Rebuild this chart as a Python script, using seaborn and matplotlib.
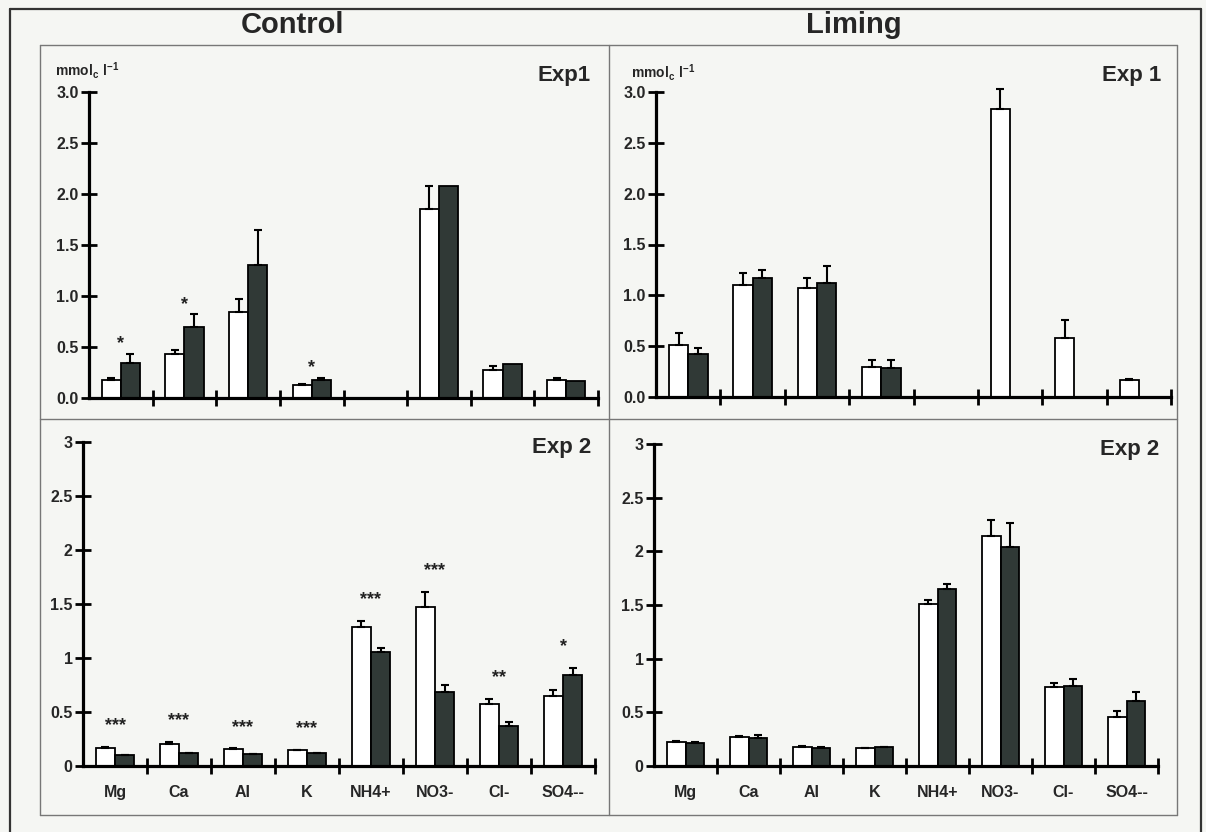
import numpy as np
import pandas as pd
import matplotlib
matplotlib.use('Agg')
import matplotlib.pyplot as plt
from matplotlib.lines import Line2D
import seaborn as sns

nan = np.nan

ions = ['Mg', 'Ca', 'Al', 'K', 'NH4+', 'NO3-', 'Cl-', 'SO4--']

# Exp 1 - control
exp1_ctrl_open = [0.18, 0.43, 0.84, 0.13, nan, 1.85, 0.27, 0.18]
exp1_ctrl_open_err = [0.02, 0.04, 0.13, 0.01, nan, 0.23, 0.04, 0.02]
exp1_ctrl_filled = [0.34, 0.70, 1.30, 0.18, nan, 2.08, 0.33, 0.17]
exp1_ctrl_filled_err = [0.09, 0.12, 0.35, 0.02, nan, 0.0, 0.0, 0.0]
exp1_ctrl_stars = ['*', '*', '', '*', '', '', '', '']

# Exp 1 - liming
exp1_lim_open = [0.51, 1.10, 1.07, 0.30, nan, 2.83, 0.58, 0.17]
exp1_lim_open_err = [0.12, 0.12, 0.10, 0.06, nan, 0.20, 0.18, 0.01]
exp1_lim_filled = [0.425, 1.17, 1.12, 0.29, nan, nan, nan, nan]
exp1_lim_filled_err = [0.06, 0.08, 0.17, 0.07, nan, nan, nan, nan]

# Exp 2 - control
exp2_ctrl_open = [0.163, 0.206, 0.154, 0.145, 1.29, 1.47, 0.57, 0.646]
exp2_ctrl_open_err = [0.012, 0.015, 0.010, 0.005, 0.055, 0.14, 0.05, 0.055]
exp2_ctrl_filled = [0.100, 0.117, 0.108, 0.117, 1.055, 0.683, 0.375, 0.846]
exp2_ctrl_filled_err = [0.005, 0.005, 0.005, 0.005, 0.04, 0.067, 0.03, 0.062]
exp2_ctrl_stars = ['***', '***', '***', '***', '***', '***', '**', '*']

# Exp 2 - liming
exp2_lim_open = [0.22, 0.266, 0.18, 0.164, 1.51, 2.147, 0.74, 0.46]
exp2_lim_open_err = [0.012, 0.012, 0.006, 0.005, 0.04, 0.143, 0.035, 0.05]
exp2_lim_filled = [0.21, 0.263, 0.17, 0.173, 1.647, 2.04, 0.748, 0.61]
exp2_lim_filled_err = [0.015, 0.024, 0.006, 0.007, 0.053, 0.22, 0.062, 0.076]

DARK = '#2e3a37'
BG = '#f5f6f3'
W, H = 1206, 832

sns.set_style('white')
plt.rcParams['font.family'] = ['Liberation Sans', 'DejaVu Sans']
plt.rcParams['font.weight'] = 'bold'
plt.rcParams['mathtext.fontset'] = 'custom'
plt.rcParams['mathtext.rm'] = 'Liberation Sans'
plt.rcParams['mathtext.bf'] = 'Liberation Sans:bold'


def px_rect(left, right, top, bottom):
    return [left / W, 1 - bottom / H, (right - left) / W, (bottom - top) / H]


def draw_panel(ax, vals_open, err_open, vals_filled, err_filled, stars=None,
               ytick_fmt='{:.1f}', xlabels=False, star_pad=4):
    df = pd.DataFrame({
        'ion': ions * 2,
        'value': vals_open + vals_filled,
        'err': err_open + err_filled,
        'group': ['open'] * len(ions) + ['filled'] * len(ions),
    })
    sns.barplot(data=df, x='ion', y='value', hue='group', order=ions,
                hue_order=['open', 'filled'],
                palette={'open': 'white', 'filled': DARK},
                edgecolor='black', linewidth=1.3, width=0.6, gap=0,
                errorbar=None, legend=False, ax=ax)

    # upward-only error bars on top of each drawn bar
    tops = np.zeros(len(ions))
    for level, cont in zip(['open', 'filled'], ax.containers):
        sub = df[df.group == level].set_index('ion')
        for bar in cont:
            h = bar.get_height()
            if not np.isfinite(h):
                continue
            xc = bar.get_x() + bar.get_width() / 2
            i = int(round(xc))
            e = sub.loc[ions[i], 'err']
            if np.isfinite(e) and e > 0:
                ax.errorbar(xc, h, yerr=[[0], [e]], fmt='none', ecolor='black',
                            elinewidth=1.5, capsize=3, capthick=1.5,
                            clip_on=False, zorder=1)
            tops[i] = max(tops[i], h + (e if np.isfinite(e) else 0))

    if stars is not None:
        for i, s in enumerate(stars):
            if s:
                ax.annotate(s, xy=(i, tops[i]), xytext=(0, star_pad),
                            textcoords='offset points', ha='center',
                            va='baseline', fontsize=13, fontweight='bold',
                            color='#222222')

    ax.set_xlim(-0.5, 7.5)
    ax.set_ylim(0, 3)
    ax.set_facecolor('none')
    ax.set_xlabel('')
    ax.set_ylabel('')
    sns.despine(ax=ax)
    for side in ['left', 'bottom']:
        ax.spines[side].set_linewidth(2.3)
        ax.spines[side].set_color('black')

    yt = np.arange(0, 3.01, 0.5)
    ax.set_yticks(yt)
    ax.set_yticklabels([ytick_fmt(v) for v in yt], fontsize=11.5,
                       fontweight='bold')
    ax.set_xticks(np.arange(0.5, 8, 1))
    ax.set_xticklabels([])
    ax.tick_params(axis='both', which='major', direction='inout', length=11,
                   width=2, color='black', pad=2, bottom=True, left=True)
    if xlabels:
        ax.set_xticks(np.arange(len(ions)), minor=True)
        ax.set_xticklabels(ions, minor=True, fontsize=11.5, fontweight='bold')
        ax.tick_params(axis='x', which='minor', length=0, pad=14, bottom=True)
    else:
        ax.set_xticks([], minor=True)


fig = plt.figure(figsize=(W / 100, H / 100), dpi=100)
fig.patch.set_facecolor(BG)

ax_tl = fig.add_axes(px_rect(89, 598, 92, 398))
ax_tr = fig.add_axes(px_rect(656, 1171, 92, 397))
ax_bl = fig.add_axes(px_rect(83, 595, 442, 766))
ax_br = fig.add_axes(px_rect(654, 1158, 444, 766))

fmt1 = lambda v: '{:.1f}'.format(v)
fmt2 = lambda v: '{:g}'.format(v)

draw_panel(ax_tl, exp1_ctrl_open, exp1_ctrl_open_err, exp1_ctrl_filled,
           exp1_ctrl_filled_err, stars=exp1_ctrl_stars, ytick_fmt=fmt1,
           star_pad=4)
draw_panel(ax_tr, exp1_lim_open, exp1_lim_open_err, exp1_lim_filled,
           exp1_lim_filled_err, ytick_fmt=fmt1)
draw_panel(ax_bl, exp2_ctrl_open, exp2_ctrl_open_err, exp2_ctrl_filled,
           exp2_ctrl_filled_err, stars=exp2_ctrl_stars, ytick_fmt=fmt2,
           xlabels=True, star_pad=12)
draw_panel(ax_br, exp2_lim_open, exp2_lim_open_err, exp2_lim_filled,
           exp2_lim_filled_err, ytick_fmt=fmt2, xlabels=True)


def fig_line(x0, y0, x1, y1, color, lw):
    fig.add_artist(Line2D([x0 / W, x1 / W], [1 - y0 / H, 1 - y1 / H],
                          transform=fig.transFigure, color=color, lw=lw))


# outer frame
fig_line(10, 9, 1201, 9, '#333333', 1.6)
fig_line(10, 9, 10, 832, '#333333', 1.6)
fig_line(1201, 9, 1201, 832, '#333333', 1.6)
# panel grid
for x in [40, 609, 1177]:
    fig_line(x, 45, x, 815, '#777777', 1.0)
for y in [45, 419, 815]:
    fig_line(40, y, 1177, y, '#777777', 1.0)

fig.text(292 / W, 1 - 25 / H, 'Control', ha='center', va='center',
         fontsize=21, fontweight='bold')
fig.text(854 / W, 1 - 25 / H, 'Liming', ha='center', va='center',
         fontsize=21, fontweight='bold')

fig.text(591 / W, 1 - 76 / H, 'Exp1', ha='right', va='center', fontsize=16,
         fontweight='bold')
fig.text(1161 / W, 1 - 76 / H, 'Exp 1', ha='right', va='center', fontsize=16,
         fontweight='bold')
fig.text(591 / W, 1 - 448 / H, 'Exp 2', ha='right', va='center', fontsize=16,
         fontweight='bold')
fig.text(1159 / W, 1 - 450 / H, 'Exp 2', ha='right', va='center', fontsize=16,
         fontweight='bold')

unit = r'$\mathbf{mmol_c\ l^{-1}}$'
fig.text(55 / W, 1 - 70 / H, unit, ha='left', va='center', fontsize=10)
fig.text(631 / W, 1 - 72 / H, unit, ha='left', va='center', fontsize=10)

fig.savefig('out.png', dpi=100, facecolor=BG)
